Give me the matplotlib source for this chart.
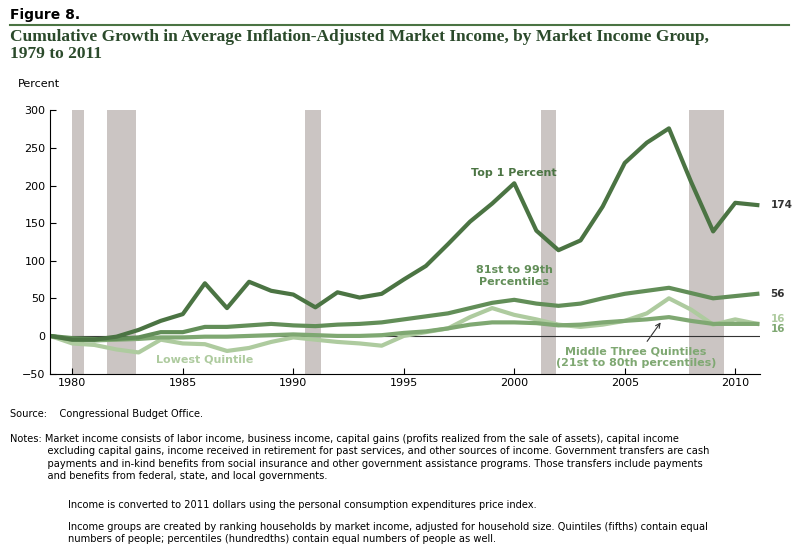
import matplotlib.pyplot as plt
import numpy as np

years = np.arange(1979, 2012)
top1 = [0, -5, -5, -1, 8, 20, 29, 70, 37, 72, 60, 55, 38, 58, 51, 56, 75, 93, 122, 152, 176, 203,
        140, 114, 127, 172, 230, 257, 276, 205, 139, 177, 174]
p81_99 = [0, -3, -4, -4, -2, 5, 5, 12, 12, 14, 16, 14, 13, 15, 16, 18, 22, 26, 30, 37, 44, 48,
          43, 40, 43, 50, 56, 60, 64, 57, 50, 53, 56]
middle = [0, -5, -6, -5, -4, -2, -2, -1, -1, 0, 1, 2, 1, 0, 0, 1, 4, 6, 10, 15, 18, 18,
          17, 14, 15, 18, 20, 22, 25, 20, 16, 16, 16]
lowest = [0, -10, -12, -18, -22, -5, -10, -11, -20, -16, -8, -2, -5, -8, -10, -13, 0, 5, 10, 25, 37, 28,
          22, 15, 12, 15, 20, 30, 50, 35, 15, 22, 16]
recessions = [(1980.0, 1980.55), (1981.55, 1982.9), (1990.55, 1991.25), (2001.2, 2001.9), (2007.9, 2009.5)]

c_top, c_81, c_mid, c_low = '#4b7443', '#628e58', '#7fa872', '#aecb9f'

fig = plt.figure(figsize=(7.97, 5.6), dpi=100)
fig.text(0.012, 0.985, 'Figure 8.', fontsize=10, fontweight='bold', va='top')
fig.add_artist(plt.Line2D([0.012, 0.99], [0.955, 0.955], color='#4b7443', lw=1.5))
fig.text(0.012, 0.948, 'Cumulative Growth in Average Inflation-Adjusted Market Income, by Market Income Group,\n1979 to 2011',
         fontsize=12.5, fontweight='bold', va='top', family='Liberation Serif', color='#2b4a2b', linespacing=1.05)

ax = fig.add_axes([0.063, 0.333, 0.89, 0.47])
for a, b in recessions:
    ax.axvspan(a, b, color='#cbc5c3', lw=0)
ax.axhline(0, color='#333333', lw=0.8)
ax.plot(years, lowest, color=c_low, lw=3)
ax.plot(years, middle, color=c_mid, lw=3)
ax.plot(years, p81_99, color=c_81, lw=3)
ax.plot(years, top1, color=c_top, lw=3)

ax.set_xlim(1979, 2011.1)
ax.set_ylim(-50, 300)
ax.set_yticks(range(-50, 301, 50))
ax.set_xticks(range(1980, 2011, 5))
for s in ['top', 'right']:
    ax.spines[s].set_visible(False)
ax.tick_params(labelsize=8, length=4, direction='in')
ax.text(-0.045, 1.09, 'Percent', transform=ax.transAxes, fontsize=8)

ax.text(2000, 213, 'Top 1 Percent', color=c_top, fontsize=8, fontweight='bold', ha='center')
ax.text(2000, 68, '81st to 99th\nPercentiles', color=c_81, fontsize=8, fontweight='bold', ha='center')
ax.text(1986, -35, 'Lowest Quintile', color=c_low, fontsize=8, fontweight='bold', ha='center')
ax.annotate('Middle Three Quintiles\n(21st to 80th percentiles)', xy=(2006.7, 21), xytext=(2005.5, -40),
            color=c_mid, fontsize=8, fontweight='bold', ha='center',
            arrowprops=dict(arrowstyle='->', color='#333333', lw=0.8))
ax.text(2011.6, top1[-1], str(top1[-1]), color='#333333', fontsize=7.5, fontweight='bold', va='center')
ax.text(2011.6, p81_99[-1], str(p81_99[-1]), color='#333333', fontsize=7.5, fontweight='bold', va='center')
ax.text(2011.6, lowest[-1] + 6, str(lowest[-1]), color=c_low, fontsize=7.5, fontweight='bold', va='center')
ax.text(2011.6, middle[-1] - 7, str(middle[-1]), color=c_mid, fontsize=7.5, fontweight='bold', va='center')

fs = 7.1
fig.text(0.012, 0.27, 'Source:    Congressional Budget Office.', fontsize=fs, va='top')
fig.text(0.012, 0.225, 'Notes: Market income consists of labor income, business income, capital gains (profits realized from the sale of assets), capital income\n'
         '            excluding capital gains, income received in retirement for past services, and other sources of income. Government transfers are cash\n'
         '            payments and in-kind benefits from social insurance and other government assistance programs. Those transfers include payments\n'
         '            and benefits from federal, state, and local governments.', fontsize=fs, va='top', linespacing=1.3)
fig.text(0.085, 0.108, 'Income is converted to 2011 dollars using the personal consumption expenditures price index.', fontsize=fs, va='top')
fig.text(0.085, 0.068, 'Income groups are created by ranking households by market income, adjusted for household size. Quintiles (fifths) contain equal\n'
         'numbers of people; percentiles (hundredths) contain equal numbers of people as well.', fontsize=fs, va='top', linespacing=1.3)

fig.savefig('out.png', dpi=100)
